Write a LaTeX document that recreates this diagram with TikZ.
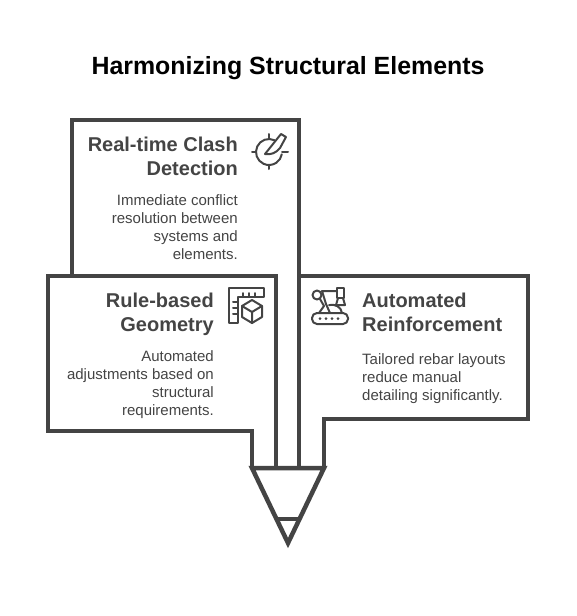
\documentclass[tikz,border=0pt]{standalone}
\usepackage{fontspec}
\setmainfont{Liberation Sans}
\usepackage{tikz}
\usetikzlibrary{arrows.meta}
\usepackage{xcolor}
\definecolor{inkgray}{HTML}{444444}
\tikzset{
  outline/.style={draw=inkgray, line width=4.5pt, line join=miter},
  icon/.style={draw=inkgray, line width=2pt, line join=round, line cap=round},
  headtext/.style={inner sep=0pt, text=inkgray, font=\fontsize{20}{24}\selectfont\bfseries},
  bodytext/.style={inner sep=0pt, text=inkgray, font=\fontsize{15}{18}\selectfont},
}
\begin{document}
\begin{tikzpicture}[x=1pt, y=-1pt]
\useasboundingbox (0,0) rectangle (576,616);
\node[inner sep=0pt, font=\fontsize{24.9}{30}\selectfont\bfseries] (title) at (288,68) {Harmonizing Structural Elements};
% outlines
\draw[outline] (72,276) -- (72,120) -- (299,120) -- (299,468);
\draw[outline] (276,468) -- (276,276) -- (48,276) -- (48,431) -- (252,431) -- (252,468);
\draw[outline] (301,276) -- (528,276) -- (528,419) -- (324,419) -- (324,468);
\draw[outline] (252,468) -- (324,468) -- (288,543) -- cycle;
\draw[outline] (276,519) -- (300,519);
% top box
\node[headtext, align=right, anchor=east] (clashhead) at (238,156) {Real-time Clash\\Detection};
\node[bodytext, align=right, anchor=east] (clashbody) at (238,227) {Immediate conflict\\resolution between\\systems and\\elements.};
% left box
\node[headtext, align=right, anchor=east] (geomhead) at (214,314) {Rule-based\\Geometry};
\node[bodytext, align=right, anchor=east] (geombody) at (214,385) {Automated\\adjustments based on\\structural\\requirements.};
% right box
\node[headtext, align=left, anchor=west] (rebarhead) at (362,312) {Automated\\Reinforcement};
\node[bodytext, align=left, anchor=west] (rebarbody) at (362,379) {Tailored rebar layouts\\reduce manual\\detailing significantly.};
% clash icon
\draw[icon] (269,152) ++(-65:13) arc (-65:-350:13);
\draw[icon] (269,134) -- (269,139) (269,165) -- (269,169) (252,152) -- (256,152) (282,152) -- (288,152);
\draw[icon] (265,154) -- (281,134) -- (286,137) -- (280,148) .. controls (276,153) and (271,155) .. (265,154) -- cycle;
% geometry icon
\draw[icon] (229,288) -- (264,288) -- (264,297) -- (238,297) -- (238,323) -- (229,323) -- cycle;
\foreach \xpos in {243,249,255} \draw[icon] (\xpos,293) -- (\xpos,297);
\foreach \ypos in {302,308,314} \draw[icon] (233,\ypos) -- (238,\ypos);
\draw[icon] (252,300) -- (262,306) -- (262,317) -- (252,323) -- (242,317) -- (242,306) -- cycle;
\draw[icon] (242,306) -- (252,312) -- (262,306) (252,312) -- (252,323);
% robot icon
\draw[icon, rounded corners=5pt] (312,313) rectangle (348,324);
\foreach \xpos in {320,326,332,338} \fill[inkgray] (\xpos,318.5) circle (1.5);
\draw[icon] (319,313) -- (324,306) -- (320,299) (330,313) -- (326,304) -- (322,291) -- (337,291);
\draw[icon] (317,295) circle (4.5) (342,313) .. controls (341,307) and (336,304) .. (329,305);
\draw[icon] (337,288) -- (344,288) -- (344,298) -- (337,298) -- cycle;
\draw[icon] (338,298) -- (336,305) -- (345,305) -- (343,298);
\end{tikzpicture}
\end{document}
